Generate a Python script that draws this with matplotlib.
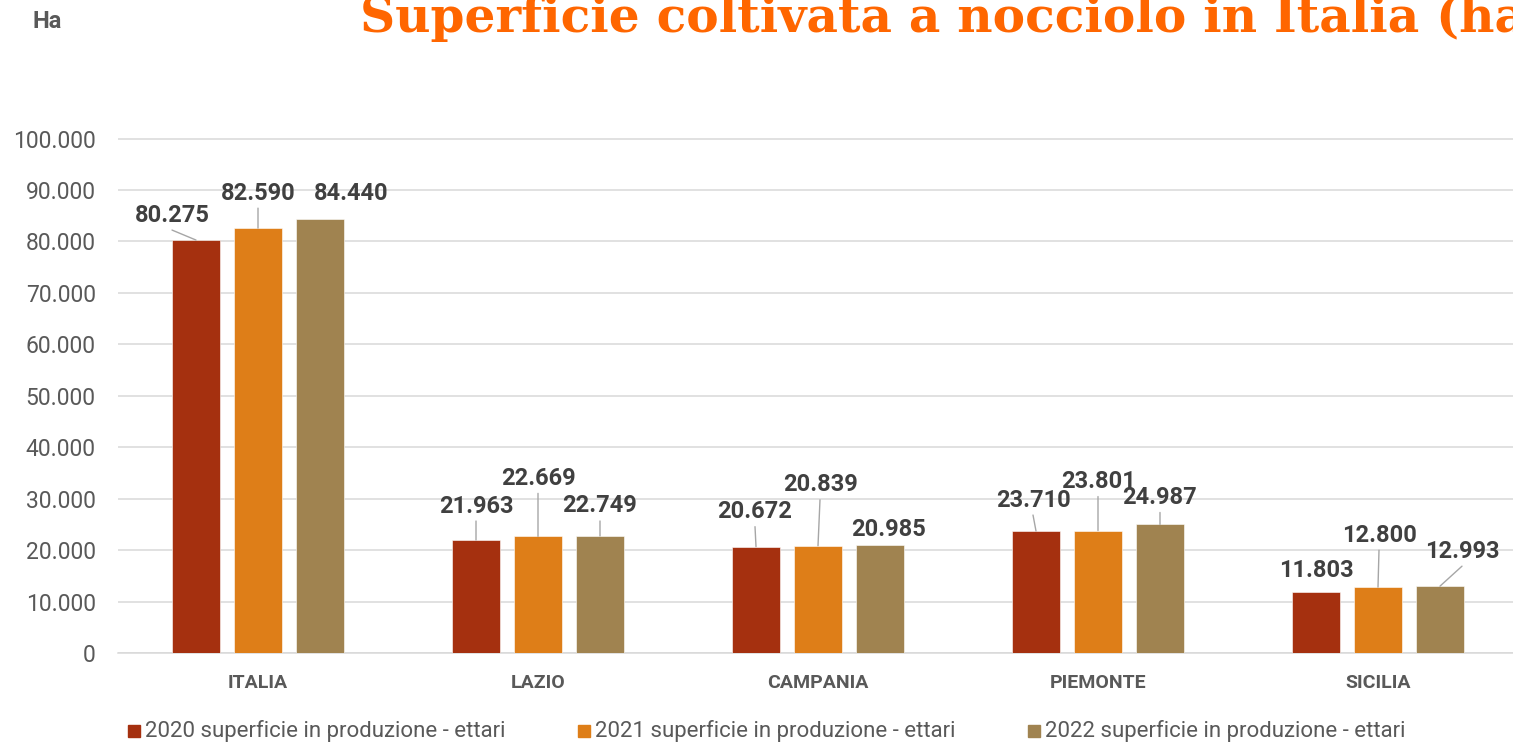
import matplotlib
matplotlib.use("Agg")
import matplotlib.pyplot as plt
from matplotlib.patches import Rectangle
from matplotlib.ticker import FuncFormatter
import numpy as np

W, H = 1513, 743

regions = ["ITALIA", "LAZIO", "CAMPANIA", "PIEMONTE", "SICILIA"]
ha_2020 = [80275, 21963, 20672, 23710, 11803]
ha_2021 = [82590, 22669, 20839, 23801, 12800]
ha_2022 = [84440, 22749, 20985, 24987, 12993]
series_names = ["2020 superficie in produzione - ettari",
                "2021 superficie in produzione - ettari",
                "2022 superficie in produzione - ettari"]
colors = ["#A5300F", "#DE7E18", "#A08350"]

# label placement (pixel offsets of the label centre from the bar top, leader line on/off)
label_layout = [
    [(-24, 27, True), (0, 37, True), (31, 27, False)],
    [(0, 36, True), (0, 60, True), (0, 32, True)],
    [(-1, 37, True), (2, 63, True), (9, 18, False)],
    [(-3, 33, True), (0, 51, True), (0, 29, True)],
    [(0, 24, False), (1, 54, True), (22, 37, True)],
]


def it_fmt(v):
    return f"{int(round(v)):,}".replace(",", ".")


plt.rcParams["font.family"] = ["Roboto", "DejaVu Sans"]

fig = plt.figure(figsize=(W / 100, H / 100), dpi=100)
ax = fig.add_axes([118 / W, (H - 653) / H, 1400 / W, 524.7 / H])

x = np.arange(len(regions))
width = 0.171
step = 0.2214
series = [ha_2020, ha_2021, ha_2022]

for j, (vals, color) in enumerate(zip(series, colors)):
    pos = x + (j - 1) * step
    ax.bar(pos, vals, width, color=color, edgecolor="white", linewidth=0.4, zorder=3)
    for i, v in enumerate(vals):
        dx, dy, leader = label_layout[i][j]
        ax.annotate(it_fmt(v), xy=(pos[i], v), xytext=(dx, dy - 2),
                    textcoords="offset pixels", ha="center", va="center",
                    fontsize=17, fontweight="bold", color="#404040", zorder=5)
        if leader:
            ax.annotate("", xy=(pos[i], v), xytext=(dx, dy - 17),
                        textcoords="offset pixels",
                        arrowprops=dict(arrowstyle="-", color="#A6A6A6", lw=1.0,
                                        shrinkA=0, shrinkB=0), zorder=4)

ax.set_xlim(-0.5, 4.5)
ax.set_ylim(0, 102000)
ax.set_yticks(np.arange(0, 100001, 10000))
ax.yaxis.set_major_formatter(FuncFormatter(lambda v, p: it_fmt(v)))
ax.set_xticks(x)
ax.set_xticklabels(regions, fontweight="bold")
ax.tick_params(axis="y", length=0, pad=16, labelsize=16.5, labelcolor="#595959")
ax.tick_params(axis="x", length=0, pad=15, labelsize=14, labelcolor="#595959")
ax.grid(axis="y", color="#D9D9D9", linewidth=1.1, zorder=0)
for side in ["left", "right", "top"]:
    ax.spines[side].set_visible(False)
ax.spines["bottom"].set_color("#D9D9D9")
ax.spines["bottom"].set_linewidth(1.1)

# legend, laid out in three evenly spaced entries
for k, (name, color) in enumerate(zip(series_names, colors)):
    x0 = 128 + 450 * k
    fig.add_artist(Rectangle((x0 / W, 1 - 737 / H), 12 / W, 12 / H,
                             transform=fig.transFigure, color=color))
    fig.text((x0 + 17) / W, 1 - 731.5 / H, name, ha="left", va="center",
             fontsize=16, color="#595959")

fig.text(32 / W, 1 - 28.5 / H, "Ha", ha="left", va="baseline",
         fontsize=17, fontweight="bold", color="#595959")
fig.text(360 / W, 1 - 32 / H, "Superficie coltivata a nocciolo in Italia (ha)",
         ha="left", va="baseline", fontfamily="DejaVu Serif", fontweight="bold",
         fontsize=35, color="#FF6600")

fig.savefig("out.png", dpi=100)
